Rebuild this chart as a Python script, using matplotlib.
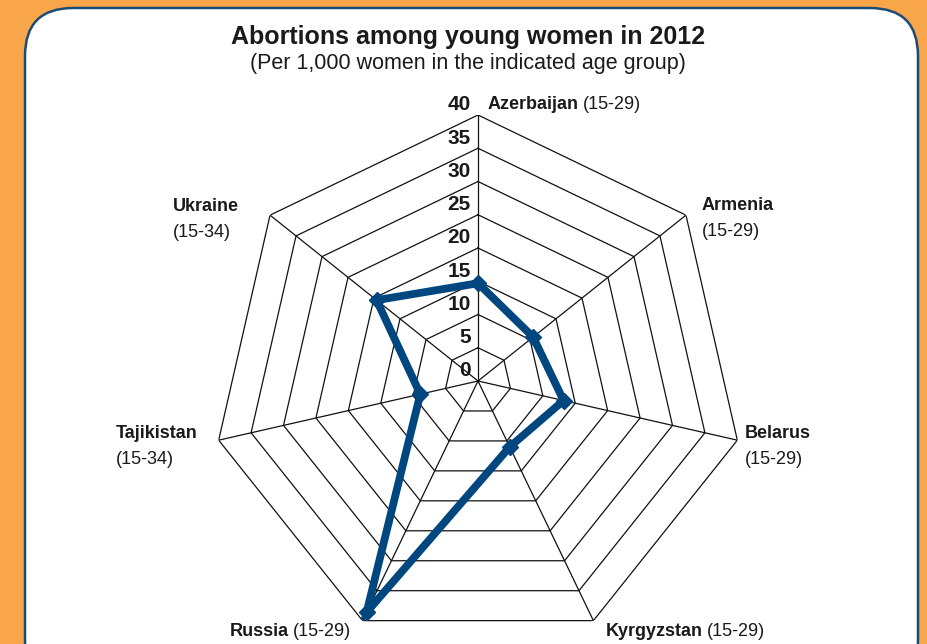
import numpy as np
import matplotlib
matplotlib.use("Agg")
import matplotlib.pyplot as plt
from matplotlib.patches import FancyBboxPatch

# Data (clockwise from top)
countries = ["Azerbaijan", "Armenia", "Belarus", "Kyrgyzstan", "Russia", "Tajikistan", "Ukraine"]
age_groups = ["(15-29)", "(15-29)", "(15-29)", "(15-29)", "(15-29)", "(15-34)", "(15-34)"]
rates = [14.7, 10.6, 13.2, 11.0, 38.6, 8.9, 19.5]
ring_levels = [0, 5, 10, 15, 20, 25, 30, 35, 40]

W, H = 928, 644
ORANGE = "#F9A64B"
BORDER = "#1B4C78"
LINE = "#00467F"
FONT = "Liberation Sans"
INK = "#1a1a1a"

fig = plt.figure(figsize=(W / 100, H / 100), dpi=100)
fig.patch.set_facecolor(ORANGE)

# Background panel in pixel coordinates
bg = fig.add_axes([0, 0, 1, 1])
bg.set_xlim(0, W)
bg.set_ylim(H, 0)
bg.axis("off")
panel = FancyBboxPatch((25, 8), 893, 680, boxstyle="round,pad=0,rounding_size=48",
                       facecolor="white", edgecolor=BORDER, linewidth=1.8)
bg.add_patch(panel)

bg.text(468, 37, "Abortions among young women in 2012", family=FONT, fontsize=18,
        fontweight="bold", ha="center", va="center", color=INK)
bg.text(468, 63, "(Per 1,000 women in the indicated age group)", family=FONT,
        fontsize=15.5, ha="center", va="center", color=INK)

# Radar axes: center (478, 381) px, radius 266 px
cx, cy, R = 478, 381, 266
ax = fig.add_axes([(cx - R) / W, (H - cy - R) / H, 2 * R / W, 2 * R / H], projection="polar")
ax.set_theta_zero_location("N")
ax.set_theta_direction(-1)
ax.set_ylim(0, 40)
ax.grid(False)
ax.set_xticks([])
ax.set_yticks([])
ax.spines["polar"].set_visible(False)
ax.patch.set_alpha(0)

n = len(countries)
angles = np.linspace(0, 2 * np.pi, n, endpoint=False)
closed = np.concatenate([angles, angles[:1]])

for lvl in ring_levels[1:]:
    ax.plot(closed, [lvl] * (n + 1), color="#111111", lw=0.9, zorder=1)
for a in angles:
    ax.plot([a, a], [0, ring_levels[-1]], color="#111111", lw=0.9, zorder=1)

vals = rates + rates[:1]
ax.plot(closed, vals, color=LINE, lw=5.6, solid_joinstyle="miter", zorder=3)
ax.plot(angles, rates, linestyle="none", marker="D", markersize=8, color=LINE, zorder=4)

for lvl in ring_levels:
    ax.annotate(str(lvl), xy=(0, lvl), xytext=(-7, 10), textcoords="offset pixels",
                ha="right", va="center", family=FONT, fontsize=15, fontweight="bold",
                color=INK, annotation_clip=False)

# Country labels
fig.canvas.draw()
renderer = fig.canvas.get_renderer()
inv = bg.transData.inverted()


def two_part(x, y, bold, regular, size=13):
    t = bg.text(x, y, bold, family=FONT, fontsize=size, fontweight="bold",
                ha="left", va="center", color=INK)
    ext = t.get_window_extent(renderer)
    x_end = inv.transform((ext.x1, ext.y0))[0]
    bg.text(x_end + 4, y, regular, family=FONT, fontsize=size, ha="left",
            va="center", color=INK)


def stacked(x, y, bold, regular, size=13):
    bg.text(x, y, bold, family=FONT, fontsize=size, fontweight="bold",
            ha="left", va="center", color=INK)
    bg.text(x, y + 26, regular, family=FONT, fontsize=size, ha="left",
            va="center", color=INK)


two_part(488, 104, countries[0], age_groups[0])
stacked(702, 205, countries[1], age_groups[1])
stacked(745, 433, countries[2], age_groups[2])
two_part(606, 631, countries[3], age_groups[3])
two_part(230, 631, countries[4], age_groups[4])
stacked(116, 433, countries[5], age_groups[5])
stacked(173, 206, countries[6], age_groups[6])

fig.savefig("out.png", dpi=100, facecolor=ORANGE)
